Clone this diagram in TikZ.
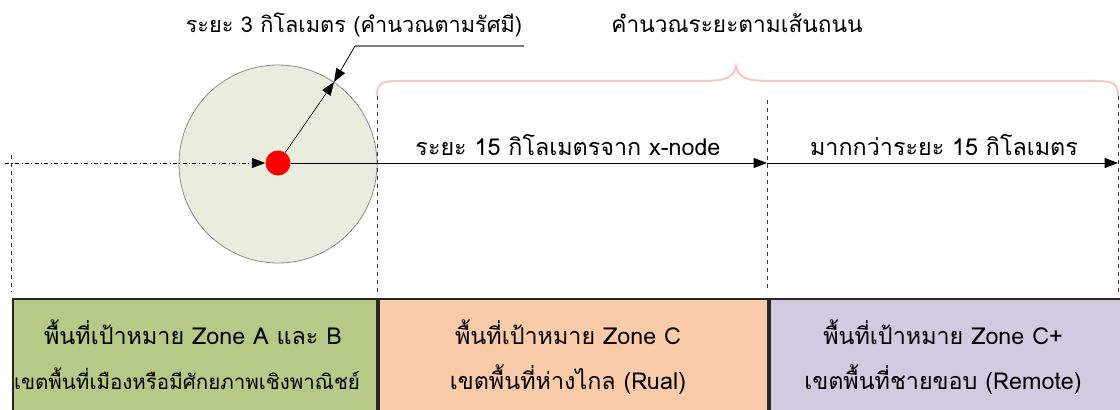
\documentclass[tikz,border=0pt]{standalone}
\usepackage{fontspec}
\setmainfont[Script=Thai]{Loma}
\usetikzlibrary{arrows.meta}
\definecolor{zonefill}{HTML}{EAEDDD}
\definecolor{boxA}{HTML}{B6CA87}
\definecolor{boxB}{HTML}{F9CBA8}
\definecolor{boxC}{HTML}{D2CAE0}
\definecolor{bracecol}{HTML}{F7C6C8}
\definecolor{leadcol}{HTML}{7F7F7F}
\begin{document}
\begin{tikzpicture}[x=0.75pt,y=-0.75pt,
  tri/.style={-{Triangle[length=10pt,width=7.5pt]}},
  guide/.style={dashed,line width=0.6pt,black!80},
  zonebox/.style={draw=black!85,line width=1.5pt,anchor=north west,inner sep=0pt},
  lbl/.style={font=\fontsize{17.5pt}{20pt}\selectfont,anchor=base,inner sep=0pt}]
\useasboundingbox (0,0) rectangle (1120,410);
% guide coordinates
\coordinate (g0t) at (11,155);  \coordinate (g0b) at (11,292);
\coordinate (g1t) at (377,96);  \coordinate (g1b) at (377,292);
\coordinate (g2t) at (767,100); \coordinate (g2b) at (767,292);
\coordinate (g3t) at (1118,96); \coordinate (g3b) at (1118,292);
\coordinate (ls) at (5,163);
\coordinate (m1) at (767,163);
\coordinate (m2) at (1118,163);
% zone circle and dot
\node[circle,fill=zonefill,draw=black!45,line width=0.6pt,minimum size=148.5pt,inner sep=0pt] (zone) at (278,164) {};
\node[circle,fill=red,minimum size=18.75pt,inner sep=0pt] (dot) at (278,163) {};
% guides
\draw[guide] (g0t) -- (g0b);
\draw[guide] (g1t) -- (g1b);
\draw[guide] (g2t) -- (g2b);
\draw[guide] (g3t) -- (g3b);
% axis arrows
\draw[tri,dash dot,line width=0.6pt] (ls) -- (dot.west);
\draw[tri,line width=0.6pt] (dot.east) -- (m1);
\draw[tri,line width=0.6pt] (m1) -- (m2);
% radius
\coordinate (rp) at (334,82);
\draw[tri,line width=0.5pt] (dot) -- (rp);
\coordinate (lk) at (355,46);
\coordinate (le) at (524,46);
\draw[leadcol,line width=2pt] (le) -- (lk);
\draw[tri,line width=0.6pt] (lk) -- (rp);
% brace
\draw[bracecol,line width=1.5pt] (g1t) .. controls (377,84) and (381,81) .. (398,81) -- (700,81)
  .. controls (725,81) and (734,78) .. (736,66)
  .. controls (738,78) and (747,81) .. (772,81) -- (1097,81)
  .. controls (1114,81) and (1118,84) .. (g3t);
% texts
\node[lbl,font=\fontsize{16.3pt}{19pt}\selectfont] (t1) at (354,33) {ระยะ 3 กิโลเมตร (คำนวณตามรัศมี)};
\node[lbl,font=\fontsize{17pt}{19pt}\selectfont] (t2) at (737,33) {คำนวณระยะตามเส้นถนน};
\node[lbl] (t3) at (568,155) {ระยะ 15 กิโลเมตรจาก x-node};
\node[lbl] (t4) at (944,155) {มากกว่าระยะ 15 กิโลเมตร};
% boxes
\node[zonebox,fill=boxA,minimum width=273.4pt,minimum height=90pt] (bA) at (11.5,297.5) {};
\node[zonebox,fill=boxB,minimum width=291.5pt,minimum height=90pt] (bB) at (378,297.5) {};
\node[zonebox,fill=boxC,minimum width=270pt,minimum height=90pt] (bC) at (768.5,297.5) {};
\node[lbl] (a1) at (193,344) {พื้นที่เป้าหมาย Zone A และ B};
\node[lbl,font=\fontsize{15.4pt}{18pt}\selectfont] (a2) at (187,389) {เขตพื้นที่เมืองหรือมีศักยภาพเชิงพาณิชย์};
\node[lbl] (b1) at (568,344) {พื้นที่เป้าหมาย Zone C};
\node[lbl] (b2) at (568,389) {เขตพื้นที่ห่างไกล (Rual)};
\node[lbl] (c1) at (943,344) {พื้นที่เป้าหมาย Zone C+};
\node[lbl] (c2) at (943,389) {เขตพื้นที่ชายขอบ (Remote)};
\end{tikzpicture}
\end{document}
